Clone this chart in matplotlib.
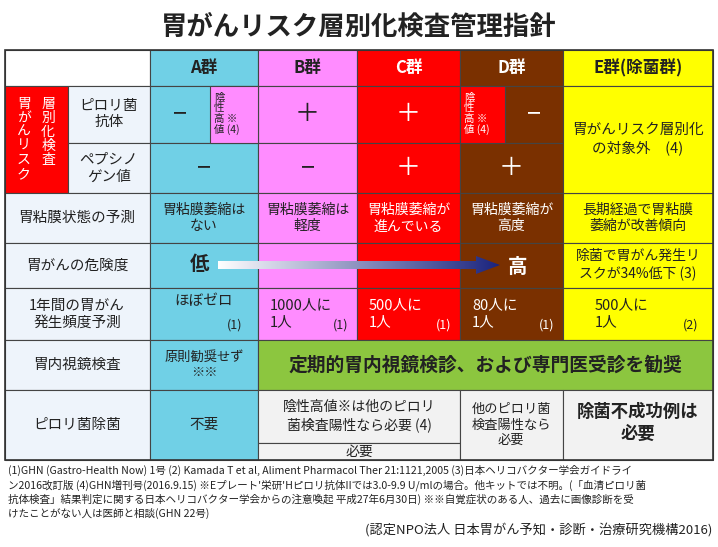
import matplotlib
matplotlib.use("Agg")
import matplotlib.pyplot as plt
from matplotlib.patches import Rectangle, Polygon
import numpy as np

plt.rcParams["font.family"] = "Noto Sans CJK JP"

title = "胃がんリスク層別化検査管理指針"
groups = ["A群", "B群", "C群", "D群", "E群(除菌群)"]
group_colors = ["#70D0E6", "#FF8CFF", "#FF0000", "#7A3000", "#FFFF00"]
group_text = ["#222222", "#222222", "white", "white", "#222222"]
row_labels = ["ピロリ菌\n抗体", "ペプシノ\nゲン値", "胃粘膜状態の予測", "胃がんの危険度",
              "1年間の胃がん\n発生頻度予測", "胃内視鏡検査", "ピロリ菌除菌"]
antibody = ["−", "＋", "＋", "−"]
pepsinogen = ["−", "−", "＋", "＋"]
atrophy = ["胃粘膜萎縮は\nない", "胃粘膜萎縮は\n軽度", "胃粘膜萎縮が\n進んでいる", "胃粘膜萎縮が\n高度", "長期経過で胃粘膜\n萎縮が改善傾向"]
freq_main = ["ほぼゼロ", "1000人に\n1人", "500人に\n1人", "80人に\n1人", "500人に\n1人"]
freq_ref = ["(1)", "(1)", "(1)", "(1)", "(2)"]
footnote = ("(1)GHN (Gastro-Health Now) 1号 (2) Kamada T et al, Aliment Pharmacol Ther 21:1121,2005 (3)日本ヘリコバクター学会ガイドライ\n"
            "ン2016改訂版 (4)GHN増刊号(2016.9.15) ※Eプレート'栄研'Hピロリ抗体IIでは3.0-9.9 U/mlの場合。他キットでは不明。(「血清ピロリ菌\n"
            "抗体検査」結果判定に関する日本ヘリコバクター学会からの注意喚起 平成27年6月30日) ※※自覚症状のある人、過去に画像診断を受\n"
            "けたことがない人は医師と相談(GHN 22号)")
credit = "(認定NPO法人 日本胃がん予知・診断・治療研究機構2016)"

fig = plt.figure(figsize=(7.18, 5.47), dpi=100)
ax = fig.add_axes([0, 0, 1, 1])
ax.set_xlim(0, 718); ax.set_ylim(547, 0); ax.axis("off")

def rect(x0, y0, x1, y1, fc, lw=0.8):
    ax.add_patch(Rectangle((x0, y0), x1 - x0, y1 - y0, facecolor=fc, edgecolor="#444444", lw=lw))

def txt(x, y, s, size=10, color="#222222", weight="normal", **kw):
    kw.setdefault("ha", "center"); kw.setdefault("va", "center"); kw.setdefault("linespacing", 1.25)
    ax.text(x, y, s, fontsize=size, color=color, weight=weight, **kw)

cx = [150, 258, 357, 460, 563, 713]
ry = [50, 86, 143, 193, 243, 288, 340, 390, 460]
light = "#EEF4FB"

txt(359, 27, title, size=19, weight="bold")

rect(5, ry[0], 150, ry[1], "white")
for i in range(5):
    rect(cx[i], ry[0], cx[i + 1], ry[1], group_colors[i])
    txt((cx[i] + cx[i + 1]) / 2, 68, groups[i], size=12, weight="bold", color=group_text[i])

rect(5, ry[1], 68, ry[3], "#FF0000")
txt(48, 132, "層\n別\n化\n検\n査", size=10, color="white", linespacing=1.0)
txt(24, 139, "胃\nが\nん\nリ\nス\nク", size=10, color="white", linespacing=1.0)
rect(68, ry[1], 150, ry[2], light); txt(109, 114, row_labels[0], size=10.5)
rect(68, ry[2], 150, ry[3], light); txt(109, 168, row_labels[1], size=10.5)
for k, r in enumerate(range(3, 8)):
    rect(5, ry[r], 150, ry[r + 1], light)
    txt(77, (ry[r] + ry[r + 1]) / 2, row_labels[k + 2], size=10.5)

for i in range(5):
    for r in range(1, 6):
        if i == 4 and r in (1, 2):
            continue
        rect(cx[i], ry[r], cx[i + 1], ry[r + 1], group_colors[i])
rect(cx[4], ry[1], cx[5], ry[3], group_colors[4])
txt(638, 139, "胃がんリスク層別化\nの対象外　(4)", size=10.5)

sub = "陰\n性\n高 ※\n値 (4)"
rect(210, ry[1], 258, ry[2], "#FF8CFF")
txt(214, 114, sub, size=7.5, ha="left", linespacing=1.05)
txt(180, 114, antibody[0], size=18)
txt(307, 114, antibody[1], size=18)
txt(408, 114, antibody[2], size=18, color="white")
rect(460, ry[1], 505, ry[2], "#FF0000")
txt(464, 114, sub, size=7.5, ha="left", color="white", linespacing=1.05)
txt(534, 114, antibody[3], size=18, color="white")
for i in range(4):
    txt((cx[i] + cx[i + 1]) / 2, 168, pepsinogen[i], size=18, color=group_text[i])
for i in range(5):
    txt((cx[i] + cx[i + 1]) / 2, 218, atrophy[i], size=10, color=group_text[i])

gx0, gx1, yc = 218, 500, 265
grad = np.linspace(0, 1, 256).reshape(1, -1)
cmap = matplotlib.colors.LinearSegmentedColormap.from_list("g", ["#FFFFFF", "#1A237E"])
im = ax.imshow(grad, extent=(gx0, gx1, yc + 9, yc - 9), cmap=cmap, aspect="auto", zorder=3)
poly = Polygon([(gx0, yc - 4), (gx1 - 24, yc - 4), (gx1 - 24, yc - 9), (gx1, yc),
                (gx1 - 24, yc + 9), (gx1 - 24, yc + 4), (gx0, yc + 4)], closed=True, fc="none", ec="none")
ax.add_patch(poly); im.set_clip_path(poly)
ax.set_xlim(0, 718); ax.set_ylim(547, 0)
txt(200, 265, "低", size=14, weight="bold", zorder=4)
txt(518, 267, "高", size=14, weight="bold", color="white", zorder=4)
txt(638, 265, "除菌で胃がん発生リ\nスクが34%低下 (3)", size=10)

for i in range(5):
    if i == 0:
        txt(204, 301, freq_main[0], size=10.5)
        txt(235, 325, freq_ref[0], size=9)
    else:
        x0 = cx[i] + (12 if i < 4 else 32)
        txt(x0, 314, freq_main[i], size=10.5, ha="left", color=group_text[i])
        txt(cx[i + 1] - (16 if i < 4 else 22), 325, freq_ref[i], size=9, color=group_text[i])

rect(150, ry[6], 258, ry[7], group_colors[0])
txt(204, 365, "原則勧奨せず\n※※", size=9.5)
rect(258, ry[6], 713, ry[7], "#8CC63F")
txt(485, 365, "定期的胃内視鏡検診、および専門医受診を勧奨", size=13.5, weight="bold")

gray = "#F2F2F2"
rect(150, ry[7], 258, ry[8], group_colors[0]); txt(204, 425, "不要", size=10.5)
rect(258, ry[7], 460, 443, gray); txt(359, 416, "陰性高値※は他のピロリ\n菌検査陽性なら必要 (4)", size=10)
rect(258, 443, 460, ry[8], gray); txt(359, 452, "必要", size=10)
rect(460, ry[7], 563, ry[8], gray); txt(511, 425, "他のピロリ菌\n検査陽性なら\n必要", size=9.5)
rect(563, ry[7], 713, ry[8], gray); txt(638, 423, "除菌不成功例は\n必要", size=12.5, weight="bold")

ax.add_patch(Rectangle((5, ry[0]), 708, ry[8] - ry[0], fc="none", ec="#333333", lw=1.2))

txt(8, 492, footnote, size=7.6, ha="left", linespacing=1.35)
txt(712, 530, credit, size=9.5, ha="right")

fig.savefig("out.png", dpi=100)
